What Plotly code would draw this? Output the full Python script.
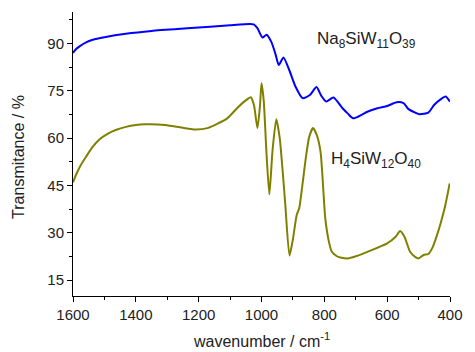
import plotly.graph_objects as go

# FTIR spectra: wavenumber (cm-1) vs transmittance (%)
na_wn = [1600, 1590, 1578, 1560, 1537, 1500, 1432, 1350, 1224, 1100, 1037, 1025,
         1013, 997, 984, 969, 955, 945, 930, 912, 892, 869, 846, 825, 810, 794,
         771, 742, 725, 708, 680, 663, 631, 600, 570, 548, 533, 515, 497, 469,
         450, 430, 414, 400]
na_tr = [87.0, 88.3, 89.2, 90.3, 91.2, 92.0, 93.1, 94.0, 94.9, 95.8, 96.2, 96.1,
         94.9, 91.9, 92.8, 90.6, 86.5, 83.2, 85.6, 81.7, 76.4, 72.7, 73.7, 76.2, 73.5, 71.6,
         72.9, 69.5, 67.8, 66.3, 67.5, 68.4, 69.5, 70.2, 71.4, 71.1, 69.3, 68.3, 67.6, 68.1,
         70.6, 72.3, 73.2, 71.6]

h_wn = [1600, 1590, 1575, 1558, 1537, 1516, 1490, 1464, 1432, 1400, 1370, 1307,
        1250, 1216, 1172, 1109, 1078, 1050, 1034, 1024, 1013, 1005, 1000, 993, 984,
        975, 965, 953, 942, 925, 911, 900, 888, 880, 870, 859, 848, 836, 824, 812,
        797, 785, 776, 760, 745, 725, 700, 663, 600, 573, 559, 545, 527, 510, 500,
        484, 469, 455, 443, 430, 416, 401]
h_tr = [46.0, 48.5, 51.5, 54.2, 57.3, 59.6, 61.4, 62.6, 63.6, 64.2, 64.4, 64.2,
        63.3, 62.8, 63.2, 66.3, 69.5, 72.0, 73.0, 70.5, 63.2, 70.0, 77.4, 72.0, 55.0,
        42.2, 56.0, 66.0, 60.0, 40.0, 22.8, 28.0, 35.7, 37.8, 45.0, 53.7, 60.5, 63.2, 61.0, 55.7,
        34.6, 27.0, 24.0, 22.6, 22.1, 21.9, 22.6, 24.0, 26.7, 28.8, 30.6, 28.8, 24.0, 22.3, 21.9,
        23.0, 23.3, 25.5, 28.8, 33.0, 38.3, 45.7]

y_ticks = [15, 30, 45, 60, 75, 90]
x_ticks = [1600, 1400, 1200, 1000, 800, 600, 400]

FONT = "Liberation Sans, Arial, sans-serif"
TXT = "#222222"

fig = go.Figure()
fig.add_trace(go.Scatter(x=na_wn, y=na_tr, mode="lines",
                         line=dict(color="#0000FF", width=2, shape="spline", smoothing=0.6),
                         showlegend=False))
fig.add_trace(go.Scatter(x=h_wn, y=h_tr, mode="lines",
                         line=dict(color="#808000", width=2, shape="spline", smoothing=0.6),
                         showlegend=False))

# compound labels
fig.add_annotation(x=830, y=91.0, xref="x", yref="y", xanchor="left", yanchor="middle",
                   text="Na<sub>8</sub>SiW<sub>11</sub>O<sub>39</sub>", showarrow=False,
                   font=dict(family=FONT, size=17, color=TXT))
fig.add_annotation(x=786, y=53.2, xref="x", yref="y", xanchor="left", yanchor="middle",
                   text="H<sub>4</sub>SiW<sub>12</sub>O<sub>40</sub>", showarrow=False,
                   font=dict(family=FONT, size=17, color=TXT))

# axis titles
fig.add_annotation(x=-0.143, y=0.49, xref="paper", yref="paper", xanchor="center",
                   yanchor="middle", textangle=-90, text="Transmitance / %", showarrow=False,
                   font=dict(family=FONT, size=16, color=TXT))
fig.add_annotation(x=0.5, y=-0.155, xref="paper", yref="paper", xanchor="center",
                   yanchor="middle", text="wavenumber / cm<sup>-1</sup>", showarrow=False,
                   font=dict(family=FONT, size=16, color=TXT))

axis_common = dict(showline=True, linecolor="black", linewidth=1, showgrid=False,
                   zeroline=False, ticks="outside", ticklen=5, tickcolor="black",
                   tickfont=dict(family=FONT, size=15, color=TXT), mirror=False)

fig.update_layout(
    width=475, height=352,
    margin=dict(l=73, r=18, t=12, b=56),
    paper_bgcolor="white", plot_bgcolor="white",
    xaxis=dict(range=[1600, 400], tickvals=x_ticks,
               minor=dict(ticks="outside", ticklen=3, dtick=100, tickcolor="black"),
               **axis_common),
    yaxis=dict(range=[10, 100], tickvals=y_ticks,
               minor=dict(ticks="outside", ticklen=3, tick0=15, dtick=7.5, tickcolor="black"),
               **axis_common),
)

fig.write_html("out.html")
